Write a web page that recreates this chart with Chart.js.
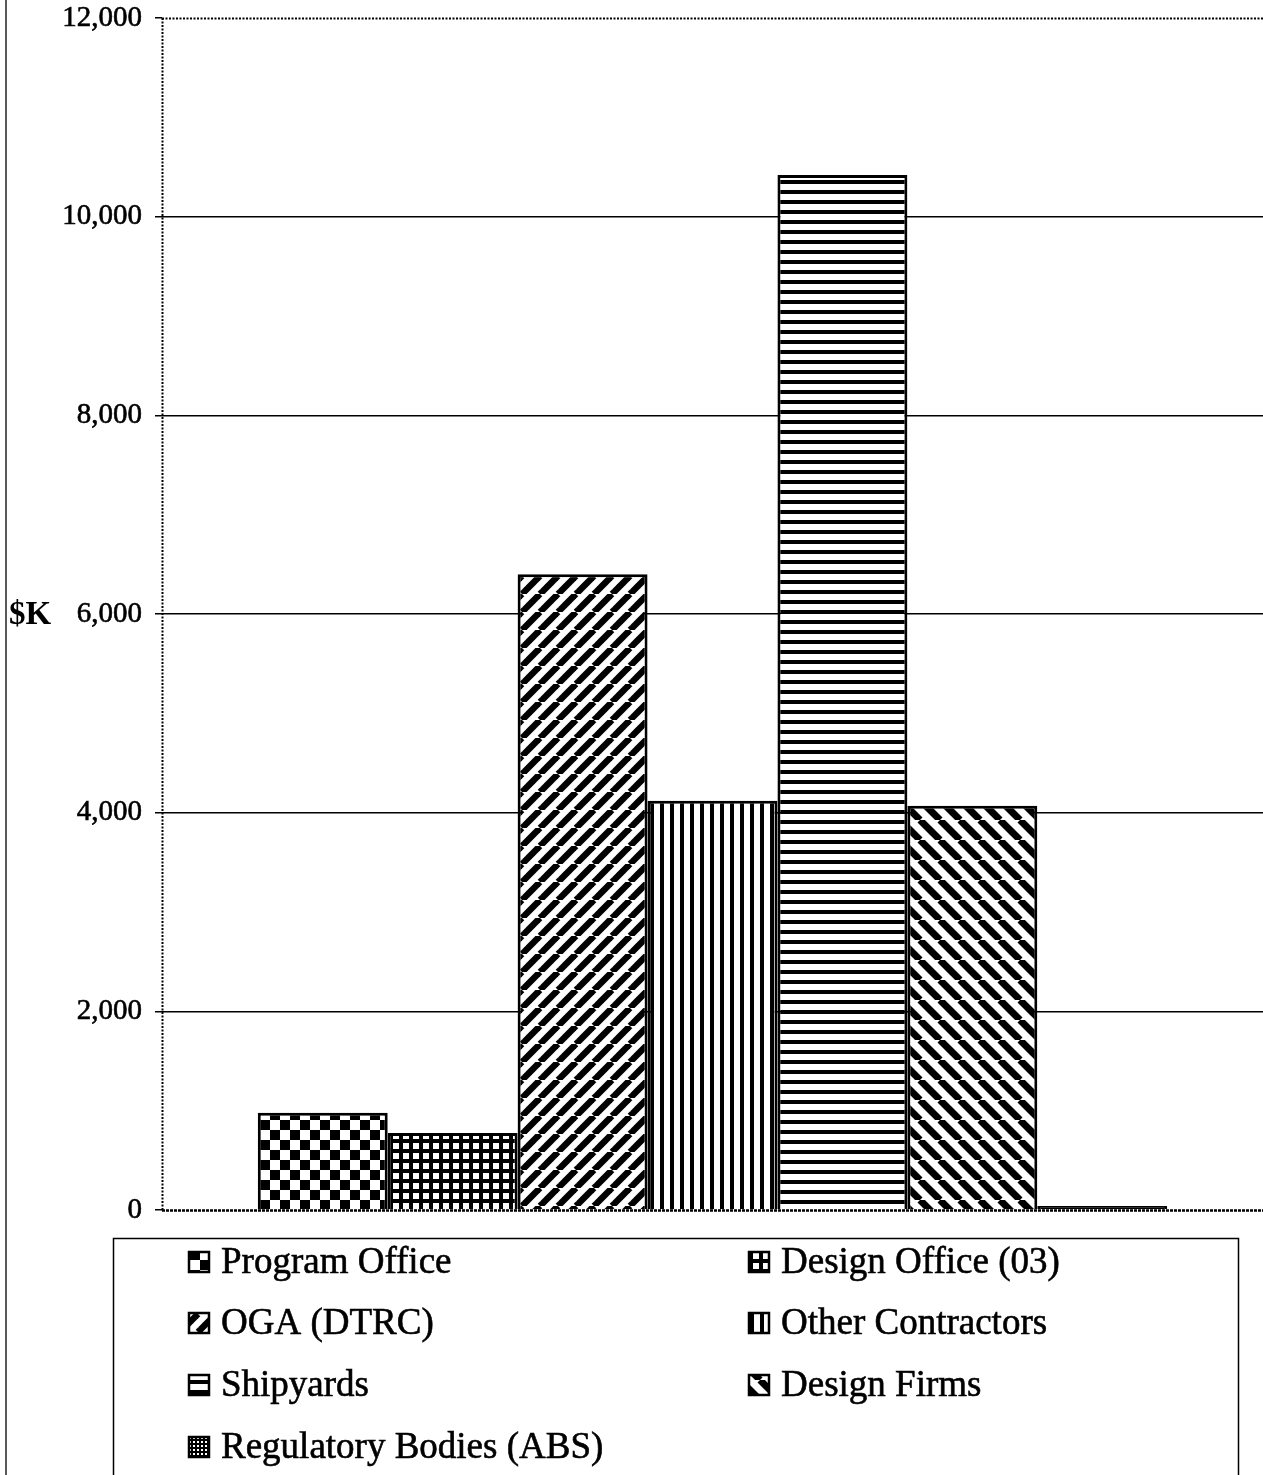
<!DOCTYPE html>
<html>
<head>
<meta charset="utf-8">
<script src="https://cdn.jsdelivr.net/npm/chart.js@4.4.1/dist/chart.umd.min.js"></script>
<style>
  html, body { margin: 0; padding: 0; background: #fff; }
  canvas { display: block; }
</style>
</head>
<body>
<canvas id="chart" width="1263" height="1475"></canvas>
<script>
// Spending by organisation, $K
const categories = [''];
const seriesNames = [
  'Program Office', 'Design Office (03)', 'OGA (DTRC)', 'Other Contractors',
  'Shipyards', 'Design Firms', 'Regulatory Bodies (ABS)'
];
const seriesValues = [980, 775, 6400, 4120, 10420, 4070, 40];
const seriesFills = ['checker', 'grid', 'diagUp', 'vert', 'horiz', 'diagDown', 'dots'];
const yTicks = [0, 2000, 4000, 6000, 8000, 10000, 12000];
const axisTitle = '$K';

const SERIF = '"Liberation Serif", "Times New Roman", serif';

// Black-and-white hatch fills
function makePattern(kind) {
  const c = document.createElement('canvas');
  const g = c.getContext('2d');
  let s = 10;
  if (kind === 'checker') s = 20;
  if (kind === 'diagUp') s = 18;
  if (kind === 'diagDown') s = 20;
  if (kind === 'dots') s = 4;
  c.width = s; c.height = s;
  g.fillStyle = '#fff';
  g.fillRect(0, 0, s, s);
  g.fillStyle = '#000';
  g.strokeStyle = '#000';
  switch (kind) {
    case 'checker':
      g.fillRect(0, 0, 10, 10);
      g.fillRect(10, 10, 10, 10);
      break;
    case 'grid':
      g.fillRect(0, 0, s, s);
      g.fillStyle = '#fff';
      g.fillRect(3, 3, 6, 6);
      break;
    case 'vert':
      g.fillRect(0, 0, 4, s);
      break;
    case 'horiz':
      g.fillRect(0, 0, s, 4);
      break;
    case 'diagUp':
      g.lineWidth = 6.5;
      for (const o of [-s, 0, s]) {
        g.beginPath(); g.moveTo(o, s); g.lineTo(o + s, 0); g.stroke();
      }
      break;
    case 'diagDown':
      g.lineWidth = 7;
      for (const o of [-s, 0, s]) {
        g.beginPath(); g.moveTo(o, 0); g.lineTo(o + s, s); g.stroke();
      }
      break;
    case 'dots':
      g.fillRect(0, 0, s, s);
      g.fillStyle = '#fff';
      g.fillRect(1, 1, 2, 2);
      break;
  }
  return document.getElementById('chart').getContext('2d').createPattern(c, 'repeat');
}

const datasets = seriesNames.map((name, i) => ({
  label: name,
  data: [seriesValues[i]],
  backgroundColor: makePattern(seriesFills[i]),
  borderColor: '#000',
  borderWidth: 3,
  borderSkipped: 'start',
  categoryPercentage: 0.826,
  barPercentage: 1.0
}));

// Page frame, dotted plot edges, axis title and boxed two-column legend
const decorations = {
  id: 'decorations',
  beforeDraw(chart) {
    const ctx = chart.ctx;
    ctx.save();
    ctx.fillStyle = '#fff';
    ctx.fillRect(0, 0, chart.width, chart.height);
    ctx.strokeStyle = '#222';
    ctx.lineWidth = 1.5;
    ctx.beginPath();
    ctx.moveTo(6, 0); ctx.lineTo(6, chart.height);
    ctx.stroke();
    ctx.restore();
  },
  afterDatasetsDraw(chart) {
    const ctx = chart.ctx;
    const y = chart.scales.y;
    const area = chart.chartArea;
    ctx.save();
    ctx.strokeStyle = '#000';
    ctx.lineWidth = 2;
    ctx.setLineDash([2, 1.5]);
    const top = Math.round(y.getPixelForValue(yTicks[yTicks.length - 1])) + 0.5;
    ctx.beginPath(); ctx.moveTo(area.left, top); ctx.lineTo(area.right, top); ctx.stroke();
    const left = Math.round(area.left) + 0.5;
    ctx.beginPath(); ctx.moveTo(left, area.top); ctx.lineTo(left, area.bottom); ctx.stroke();
    ctx.lineWidth = 2.5;
    ctx.setLineDash([3, 1]);
    const base = Math.round(y.getPixelForValue(0)) + 0.5;
    ctx.beginPath(); ctx.moveTo(area.left, base); ctx.lineTo(area.right, base); ctx.stroke();
    ctx.restore();
  },
  afterDraw(chart) {
    const ctx = chart.ctx;
    const y = chart.scales.y;
    ctx.save();
    // horizontal axis title
    ctx.fillStyle = '#000';
    ctx.font = 'bold 33px ' + SERIF;
    ctx.textAlign = 'left';
    ctx.textBaseline = 'middle';
    ctx.fillText(axisTitle, 9, y.getPixelForValue(6000) + 1);

    // legend box
    ctx.strokeStyle = '#000';
    ctx.lineWidth = 1.5;
    ctx.strokeRect(113.5, 1238.5, 1125, 260);

    const colX = [188, 748];
    const rowY = [1262, 1323, 1385, 1447];
    ctx.font = '37px ' + SERIF;
    chart.data.datasets.forEach((ds, i) => {
      const cx = colX[i % 2];
      const cy = rowY[Math.floor(i / 2)];
      const sz = 22;
      ctx.fillStyle = ds.backgroundColor;
      ctx.fillRect(cx, cy - sz / 2, sz, sz);
      ctx.strokeStyle = '#000';
      ctx.lineWidth = 2.5;
      ctx.strokeRect(cx + 1, cy - sz / 2 + 1, sz - 2, sz - 2);
      ctx.fillStyle = '#000';
      ctx.strokeStyle = '#000';
      ctx.lineWidth = 0.6;
      ctx.textAlign = 'left';
      ctx.textBaseline = 'middle';
      ctx.fillText(ds.label, cx + sz + 11, cy + 1);
      ctx.strokeText(ds.label, cx + sz + 11, cy + 1);
    });
    ctx.restore();
  }
};

new Chart(document.getElementById('chart'), {
  type: 'bar',
  data: { labels: categories, datasets },
  options: {
    responsive: false,
    animation: false,
    events: [],
    locale: 'en-US',
    layout: { padding: { left: 0, top: 18, right: 0, bottom: 265 } },
    plugins: {
      legend: { display: false },
      tooltip: { enabled: false }
    },
    scales: {
      x: { display: false },
      y: {
        min: 0,
        max: 12000,
        afterFit(scale) {
          scale.width = 162;
          scale.paddingTop = 0;
          scale.paddingBottom = 0;
        },
        afterBuildTicks(scale) { scale.ticks = yTicks.map(v => ({ value: v })); },
        ticks: {
          color: '#000',
          padding: 13,
          textStrokeColor: '#000',
          textStrokeWidth: 0.6,
          font: { family: SERIF, size: 29 },
          callback: v => v.toLocaleString('en-US')
        },
        grid: {
          color: ctx => (ctx.tick && (ctx.tick.value === 0 || ctx.tick.value === 12000)) ? 'rgba(0,0,0,0)' : '#000',
          lineWidth: 1.5,
          tickColor: '#000',
          tickLength: 7,
          tickWidth: 1.5
        },
        border: { display: false }
      }
    }
  },
  plugins: [decorations]
});
</script>
</body>
</html>
